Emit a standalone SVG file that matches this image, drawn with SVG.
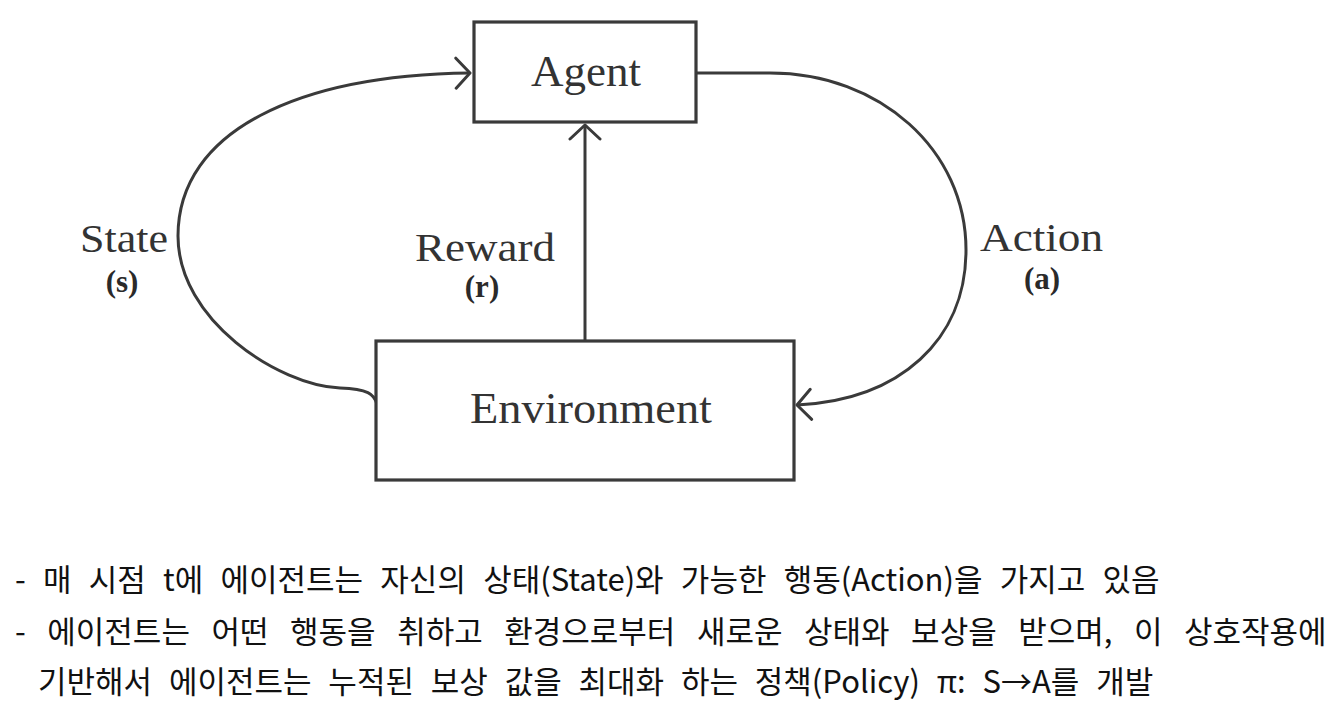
<svg xmlns="http://www.w3.org/2000/svg" width="1334" height="724" viewBox="0 0 1334 724">
  <style>
    .box { fill: #ffffff; stroke: #3a3a3a; stroke-width: 3.2; }
    .conn { fill: none; stroke: #3a3a3a; stroke-width: 3; }
    .lbl { font-family: "Liberation Serif", "Times New Roman", serif; fill: #333333; }
    .sym { font-family: "Liberation Serif", "Times New Roman", serif; fill: #2a2a2a; font-weight: bold; font-size: 31px; }
    .body { font-family: "Noto Sans CJK KR", "Noto Sans", sans-serif; fill: #111111; font-size: 31px; }
  </style>
  <defs>
    <marker id="chev" viewBox="0 0 18 34" refX="16" refY="17" markerWidth="18" markerHeight="34" markerUnits="userSpaceOnUse" orient="auto">
      <path d="M2,2 L16,17 L2,32" fill="none" stroke="#3a3a3a" stroke-width="3" stroke-linecap="round" stroke-linejoin="round"/>
    </marker>
  </defs>
  <rect width="1334" height="724" fill="#ffffff"/>

  <g id="connectors">
    <path id="state-edge" class="conn" d="M 377,404 C 374,394 368,389 340,388 C 278,385 178,320 178,236 C 178,130 300,75 470,73" marker-end="url(#chev)"/>
    <path id="action-edge" class="conn" d="M 697,73 L 770,73 C 880,73 966,150 966,250 C 966,340 900,400 797,405" marker-end="url(#chev)"/>
    <path id="reward-edge" class="conn" d="M 585,341 L 585,125" marker-end="url(#chev)"/>
  </g>

  <g id="agent">
    <rect class="box" x="474" y="22" width="222" height="100"/>
    <text class="lbl" x="586" y="86" font-size="45" text-anchor="middle">Agent</text>
  </g>

  <g id="environment">
    <rect class="box" x="376" y="341" width="418" height="139"/>
    <text class="lbl" x="591" y="423" font-size="45" text-anchor="middle" textLength="242" lengthAdjust="spacingAndGlyphs">Environment</text>
  </g>

  <g id="labels">
    <text class="lbl" x="80" y="252" font-size="40" textLength="88" lengthAdjust="spacingAndGlyphs">State</text>
    <text class="sym" x="122" y="292" text-anchor="middle">(s)</text>
    <text class="lbl" x="415" y="261" font-size="40" textLength="140" lengthAdjust="spacingAndGlyphs">Reward</text>
    <text class="sym" x="482" y="297" text-anchor="middle">(r)</text>
    <text class="lbl" x="980" y="251" font-size="40" textLength="123" lengthAdjust="spacingAndGlyphs">Action</text>
    <text class="sym" x="1042" y="289" text-anchor="middle">(a)</text>
  </g>

  <g id="notes">
    <text class="body" x="15" y="591" word-spacing="10.3">- 매 시점 t에 에이전트는 자신의 상태(State)와 가능한 행동(Action)을 가지고 있음</text>
    <text class="body" x="15" y="643" word-spacing="14.6">- 에이전트는 어떤 행동을 취하고 환경으로부터 새로운 상태와 보상을 받으며, 이 상호작용에</text>
    <text class="body" x="38" y="693" word-spacing="9.9">기반해서 에이전트는 누적된 보상 값을 최대화 하는 정책(Policy) π: S→A를 개발</text>
  </g>
</svg>
